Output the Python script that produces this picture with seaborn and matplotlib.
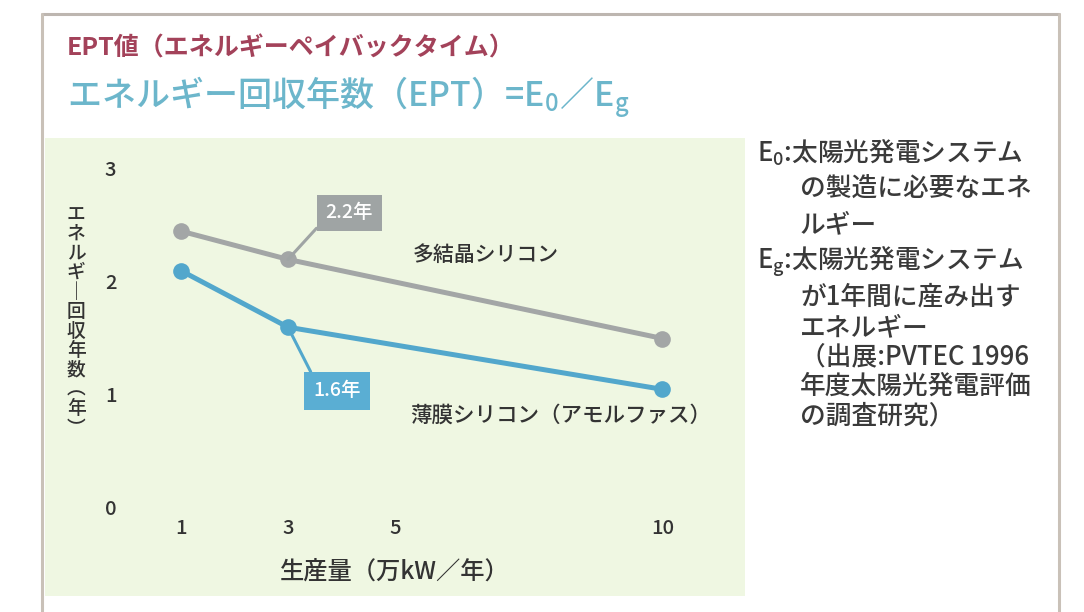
import matplotlib
matplotlib.use("Agg")
import matplotlib.pyplot as plt
from matplotlib.patches import Rectangle
from matplotlib.lines import Line2D
import pandas as pd
import seaborn as sns

# ---- data ----
production = [1, 3, 10]                 # 万kW／年
poly_si = [2.45, 2.2, 1.5]              # 多結晶シリコン EPT (年)
thin_si = [2.1, 1.6, 1.05]              # 薄膜シリコン EPT (年)
series_names = ["多結晶シリコン", "薄膜シリコン（アモルファス）"]
x_ticks = [1, 3, 5, 10]
y_ticks = [0, 1, 2, 3]

title = "EPT値（エネルギーペイバックタイム）"
subtitle = r"エネルギー回収年数（EPT）=E$_0$／E$_\mathrm{g}$"
y_label = "エネルギー回収年数（年）"
x_label = "生産量（万kW／年）"
note_lines = [
    r"E$_0$:太陽光発電システム",
    "の製造に必要なエネ",
    "ルギー",
    r"E$_\mathrm{g}$:太陽光発電システム",
    "が1年間に産み出す",
    "エネルギー",
    "（出展:PVTEC 1996",
    "年度太陽光発電評価",
    "の調査研究）",
]

# ---- style ----
sns.set_theme(style="white")
plt.rcParams["font.family"] = ["Noto Sans CJK JP", "DejaVu Sans"]
plt.rcParams["mathtext.fontset"] = "custom"
plt.rcParams["mathtext.rm"] = "Noto Sans CJK JP:medium"
plt.rcParams["mathtext.it"] = "Noto Sans CJK JP:medium"
plt.rcParams["mathtext.bf"] = "Noto Sans CJK JP:bold"

W, H = 1084, 612
fig = plt.figure(figsize=(W / 100, H / 100), dpi=100, facecolor="white")


def fx(px):
    return px / W


def fy(py):
    return 1 - py / H


TXT = "#333333"

# outer frame
frame_col = "#c9c1b8"
fig.add_artist(Line2D([fx(42), fx(1059)], [fy(14), fy(14)], color="#bdb6b0", lw=2.2,
                      transform=fig.transFigure))
fig.add_artist(Line2D([fx(42), fx(42)], [fy(14), fy(612)], color=frame_col, lw=2.2,
                      transform=fig.transFigure))
fig.add_artist(Line2D([fx(1059), fx(1059)], [fy(14), fy(612)], color=frame_col, lw=2.2,
                      transform=fig.transFigure))

# light green plotting panel
fig.add_artist(Rectangle((fx(45), fy(596)), fx(745) - fx(45), fy(138) - fy(596),
                         transform=fig.transFigure, facecolor="#eff7e2",
                         edgecolor="none", zorder=0))

# headings
fig.text(fx(67), fy(48), title, color="#a3425a", fontsize=18, fontweight="bold",
         ha="left", va="center")
fig.text(fx(67), fy(98), subtitle, color="#6cb6cb", fontsize=24.5,
         fontweight="medium", ha="left", va="center")

# ---- chart ----
ax = fig.add_axes([fx(127.5), fy(519.3), (716 - 127.5) / W, (519.3 - 135.1) / H])
ax.set_facecolor("none")

df = pd.DataFrame({
    "生産量": production * 2,
    "EPT": poly_si + thin_si,
    "種類": [series_names[0]] * len(production) + [series_names[1]] * len(production),
})
palette = {series_names[0]: "#a3a6a6", series_names[1]: "#52a7cc"}
sns.lineplot(data=df, x="生産量", y="EPT", hue="種類", palette=palette,
             marker="o", markersize=12, markeredgewidth=0, linewidth=3.6,
             legend=False, ax=ax)

ax.set_xlim(0, 11)
ax.set_ylim(-0.1, 3.3)
ax.set_xticks(x_ticks)
ax.set_yticks(y_ticks)
ax.set_xticklabels([str(t) for t in x_ticks], fontweight="medium")
ax.set_yticklabels([str(t) for t in y_ticks], fontweight="medium")
ax.tick_params(axis="both", length=0, labelsize=14.5, labelcolor=TXT)
ax.tick_params(axis="y", pad=8)
ax.tick_params(axis="x", pad=0)
ax.set_xlabel("")
ax.set_ylabel("")
for s in ax.spines.values():
    s.set_visible(False)
ax.grid(False)

# value call-outs
ax.annotate(f"{poly_si[1]:.1f}年", xy=(production[1], poly_si[1]),
            xytext=(349, H - 213), textcoords="figure pixels",
            ha="center", va="center", color="white", fontsize=14,
            fontweight="medium",
            bbox=dict(boxstyle="square,pad=0.45", fc="#9fa4a4", ec="none"),
            arrowprops=dict(arrowstyle="-", color="#9fa4a4", lw=2.2,
                            shrinkA=0, shrinkB=0, relpos=(0.0, 0.2)))
ax.annotate(f"{thin_si[1]:.1f}年", xy=(production[1], thin_si[1]),
            xytext=(337, H - 391), textcoords="figure pixels",
            ha="center", va="center", color="white", fontsize=14,
            fontweight="medium",
            bbox=dict(boxstyle="square,pad=0.5", fc="#5aaed3", ec="none"),
            arrowprops=dict(arrowstyle="-", color="#52a7cc", lw=2.2,
                            shrinkA=0, shrinkB=0, relpos=(0.05, 1.0)))

# series names
fig.text(fx(413), fy(255), series_names[0], fontsize=15, color=TXT,
         fontweight="medium", ha="left", va="center")
fig.text(fx(410), fy(416), series_names[1], fontsize=15.5, color=TXT,
         fontweight="medium", ha="left", va="center")

# vertical (stacked) y-axis label
vertical_forms = {"ー": "｜", "（": "︵", "）": "︶"}
for i, ch in enumerate(y_label):
    fig.text(fx(76), fy(214 + i * 19.5), vertical_forms.get(ch, ch), fontsize=13.5,
             color=TXT, fontweight="medium", ha="center", va="center")

# x-axis label
fig.text(fx(395), fy(572), x_label, fontsize=17.5, color=TXT,
         fontweight="medium", ha="center", va="center")

# notes on the right
note_y = [153, 189, 225, 262, 297, 328, 357, 386, 416]
for line, yy in zip(note_lines, note_y):
    x0 = 757 if line.startswith("E") else 800
    fig.text(fx(x0), fy(yy), line, fontsize=18.5, color="#3a3a3a",
             fontweight="medium", ha="left", va="center")

fig.savefig("out.png", dpi=100, facecolor="white")
